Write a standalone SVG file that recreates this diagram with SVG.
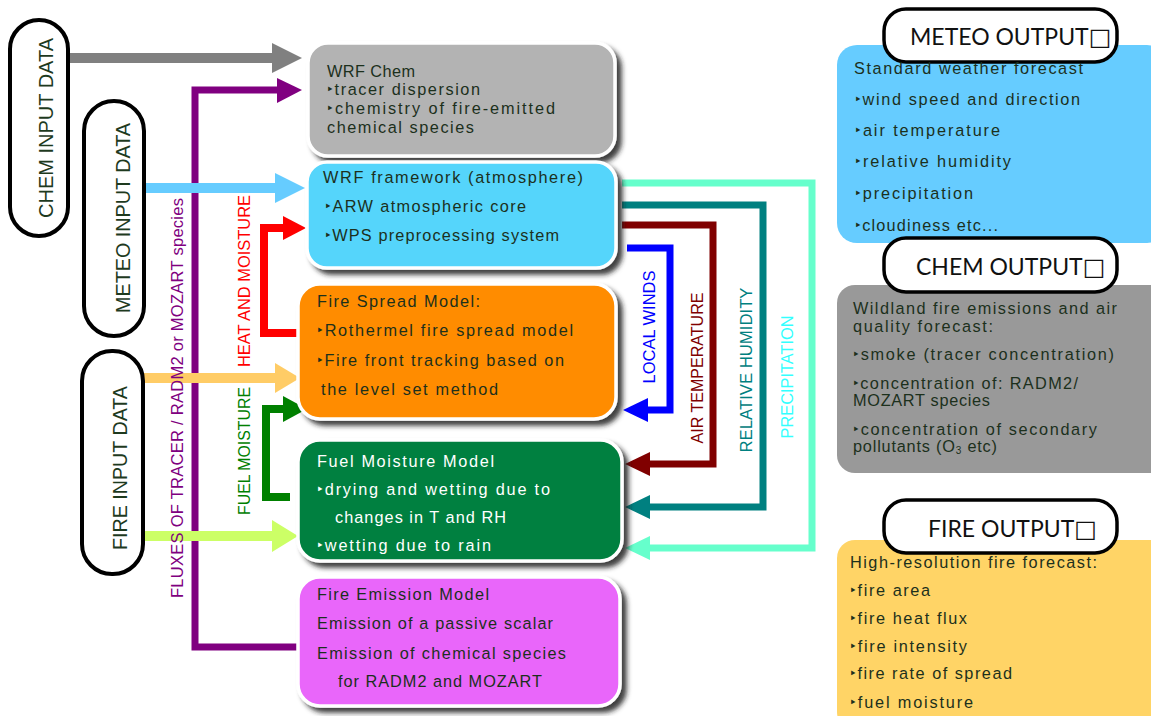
<svg xmlns="http://www.w3.org/2000/svg" width="1151" height="716" viewBox="0 0 1151 716">
<style>
.bt{font-family:"Liberation Sans",Arial,sans-serif;font-size:16.3px;fill:#1c301c}
.wt{font-family:"Liberation Sans",Arial,sans-serif;font-size:16.3px;fill:#ffffff}
.in{font-family:"Liberation Sans",Arial,sans-serif;font-size:20px;fill:#1e3a1e;text-anchor:middle}
.lab{font-family:"Liberation Sans",Arial,sans-serif;font-size:16.5px;text-anchor:middle}
.pill{fill:#ffffff;stroke:#000000;stroke-width:4}
.opill{fill:#ffffff;stroke:#000000;stroke-width:3.5}
.ot{font-family:Lato,"Open Sans","DejaVu Sans",sans-serif;font-size:23px;fill:#111111}
.sq{font-family:"DejaVu Sans",sans-serif;font-size:24px}
.box{stroke:#ffffff;stroke-width:3.5;filter:url(#sh)}
.ln{fill:none;stroke-linejoin:miter}
</style>
<defs>
<filter id="sh" x="-10%" y="-10%" width="130%" height="135%">
<feDropShadow dx="5" dy="5" stdDeviation="2.5" flood-color="#222222" flood-opacity="0.85"/>
</filter>
</defs>
<rect width="1151" height="716" fill="#ffffff"/>

<g id="connectors">
  <line class="ln" x1="68" y1="58" x2="276" y2="58" stroke="#808080" stroke-width="10"/>
  <polygon points="272,43 302,58 272,73" fill="#808080"/>
  <path class="ln" d="M298,647 H195 V90 H280" stroke="#800080" stroke-width="7"/>
  <polygon points="277,78 302,90 277,103" fill="#800080"/>
  <line class="ln" x1="145" y1="188" x2="277" y2="188" stroke="#66CCFF" stroke-width="10"/>
  <polygon points="275,173 305,188 275,203" fill="#66CCFF"/>
  <path class="ln" d="M298,333 H264 V228 H286" stroke="#FF0000" stroke-width="8"/>
  <polygon points="283,216 306,228 283,240" fill="#FF0000"/>
  <line class="ln" x1="143" y1="378" x2="277" y2="378" stroke="#FFCC66" stroke-width="10"/>
  <polygon points="275,363 300,378 275,393" fill="#FFCC66"/>
  <path class="ln" d="M290,497 H266 V409 H286" stroke="#008000" stroke-width="8"/>
  <polygon points="283,396 307,409 283,422" fill="#008000"/>
  <line class="ln" x1="143" y1="536" x2="274" y2="536" stroke="#CCFF66" stroke-width="10"/>
  <polygon points="272,520 298,536 272,552" fill="#CCFF66"/>
  <path class="ln" d="M622,183 H812 V548 H648" stroke="#66FFCC" stroke-width="7"/>
  <polygon points="650,536 625,548 650,560" fill="#66FFCC"/>
  <path class="ln" d="M622,205 H763 V507 H648" stroke="#008080" stroke-width="7"/>
  <polygon points="650,495 625,507 650,519" fill="#008080"/>
  <path class="ln" d="M622,225 H713 V464 H648" stroke="#800000" stroke-width="7"/>
  <polygon points="650,452 625,464 650,476" fill="#800000"/>
  <path class="ln" d="M627,248 H670 V410 H645" stroke="#0000FF" stroke-width="7"/>
  <polygon points="648,398 623,410 648,422" fill="#0000FF"/>
  <text class="lab" transform="translate(183,398) rotate(-90)" fill="#800080" textLength="400" lengthAdjust="spacing">FLUXES OF TRACER  /  RADM2 or MOZART species</text>
  <text class="lab" transform="translate(250,281) rotate(-90)" fill="#FF0000" textLength="172" lengthAdjust="spacingAndGlyphs">HEAT AND MOISTURE</text>
  <text class="lab" transform="translate(250,451) rotate(-90)" fill="#008000" textLength="128" lengthAdjust="spacingAndGlyphs">FUEL MOISTURE</text>
  <text class="lab" transform="translate(655,327) rotate(-90)" fill="#0000FF" textLength="113" lengthAdjust="spacingAndGlyphs">LOCAL WINDS</text>
  <text class="lab" transform="translate(703,368) rotate(-90)" fill="#800000" textLength="151" lengthAdjust="spacingAndGlyphs">AIR TEMPERATURE</text>
  <text class="lab" transform="translate(752,370) rotate(-90)" fill="#008080" textLength="165" lengthAdjust="spacingAndGlyphs">RELATIVE HUMIDITY</text>
  <text class="lab" transform="translate(793,377) rotate(-90)" fill="#33FFFF" textLength="123" lengthAdjust="spacingAndGlyphs">PRECIPITATION</text>
</g>

<g id="chem-input">
  <rect class="pill" x="10" y="20" width="58" height="216" rx="29"/>
  <text class="in" transform="translate(53,128) rotate(-90)" textLength="180" lengthAdjust="spacingAndGlyphs">CHEM INPUT DATA</text>
</g>
<g id="meteo-input">
  <rect class="pill" x="84" y="101" width="60" height="235" rx="30"/>
  <text class="in" transform="translate(130,218) rotate(-90)" textLength="190" lengthAdjust="spacingAndGlyphs">METEO INPUT DATA</text>
</g>
<g id="fire-input">
  <rect class="pill" x="82" y="351" width="61" height="223" rx="30"/>
  <text class="in" transform="translate(127,468) rotate(-90)" textLength="164" lengthAdjust="spacingAndGlyphs">FIRE INPUT DATA</text>
</g>

<g id="wrf-chem">
  <rect class="box" x="308" y="43" width="307" height="113" rx="20" fill="#B3B3B3"/>
  <text class="bt" x="327" y="77" textLength="88" lengthAdjust="spacing">WRF Chem</text>
  <text class="bt" x="327" y="95" textLength="153" lengthAdjust="spacing">‣tracer dispersion</text>
  <text class="bt" x="327" y="114" textLength="228" lengthAdjust="spacing">‣chemistry of  fire-emitted</text>
  <text class="bt" x="327" y="133" textLength="147" lengthAdjust="spacing">chemical species</text>
</g>
<g id="wrf-framework">
  <rect class="box" x="307" y="162" width="309" height="106" rx="20" fill="#55D5FB"/>
  <text class="bt" x="323" y="183" textLength="260" lengthAdjust="spacing">WRF framework (atmosphere)</text>
  <text class="bt" x="325" y="212" textLength="201" lengthAdjust="spacing">‣ARW atmospheric core</text>
  <text class="bt" x="325" y="241" textLength="234" lengthAdjust="spacing">‣WPS preprocessing system</text>
</g>
<g id="fire-spread">
  <rect class="box" x="298" y="284" width="318" height="135" rx="22" fill="#FF8C00"/>
  <text class="bt" x="317" y="307" textLength="163" lengthAdjust="spacing">Fire Spread Model:</text>
  <text class="bt" x="317" y="336" textLength="256" lengthAdjust="spacing">‣Rothermel fire spread model</text>
  <text class="bt" x="317" y="366" textLength="247" lengthAdjust="spacing">‣Fire front tracking based on</text>
  <text class="bt" x="321" y="395" textLength="177" lengthAdjust="spacing">the level set method</text>
</g>
<g id="fuel-moisture">
  <rect class="box" x="298" y="440" width="324" height="121" rx="22" fill="#008040"/>
  <text class="wt" x="317" y="467" textLength="177" lengthAdjust="spacing">Fuel Moisture Model</text>
  <text class="wt" x="317" y="495" textLength="233" lengthAdjust="spacing">‣drying and wetting due to</text>
  <text class="wt" x="335" y="523" textLength="171" lengthAdjust="spacing">changes in T and RH</text>
  <text class="wt" x="317" y="551" textLength="174" lengthAdjust="spacing">‣wetting due to rain</text>
</g>
<g id="fire-emission">
  <rect class="box" x="298" y="577" width="322" height="129" rx="22" fill="#E966FA"/>
  <text class="bt" x="317" y="600" textLength="172" lengthAdjust="spacing">Fire Emission Model</text>
  <text class="bt" x="317" y="629" textLength="236" lengthAdjust="spacing">Emission of a passive scalar</text>
  <text class="bt" x="317" y="659" textLength="249" lengthAdjust="spacing">Emission of chemical species</text>
  <text class="bt" x="338" y="687" textLength="204" lengthAdjust="spacing">for RADM2 and MOZART</text>
</g>

<g id="meteo-output">
  <rect x="837" y="45" width="330" height="198" rx="20" fill="#66CCFF"/>
  <rect class="opill" x="884" y="9" width="233" height="53" rx="22"/>
  <text class="ot" x="910" y="45">METEO OUTPUT<tspan class="sq">□</tspan></text>
  <text class="bt" x="854" y="74" textLength="229" lengthAdjust="spacing">Standard weather forecast</text>
  <text class="bt" x="855" y="105" textLength="225" lengthAdjust="spacing">‣wind speed and direction</text>
  <text class="bt" x="855" y="136" textLength="145" lengthAdjust="spacing">‣air temperature</text>
  <text class="bt" x="855" y="167" textLength="156" lengthAdjust="spacing">‣relative humidity</text>
  <text class="bt" x="855" y="199" textLength="118" lengthAdjust="spacing">‣precipitation</text>
  <text class="bt" x="855" y="231" textLength="143" lengthAdjust="spacing">‣cloudiness etc...</text>
</g>
<g id="chem-output">
  <rect x="837" y="285" width="330" height="188" rx="18" fill="#999999"/>
  <rect class="opill" x="884" y="238" width="233" height="54" rx="22"/>
  <text class="ot" x="916" y="275">CHEM OUTPUT<tspan class="sq">□</tspan></text>
  <text class="bt" x="853" y="314" textLength="264" lengthAdjust="spacing">Wildland fire emissions and air</text>
  <text class="bt" x="853" y="332" textLength="140" lengthAdjust="spacing">quality forecast:</text>
  <text class="bt" x="853" y="360" textLength="261" lengthAdjust="spacing">‣smoke (tracer concentration)</text>
  <text class="bt" x="853" y="389" textLength="225" lengthAdjust="spacing">‣concentration of: RADM2/</text>
  <text class="bt" x="853" y="406" textLength="137" lengthAdjust="spacing">MOZART species</text>
  <text class="bt" x="853" y="435" textLength="244" lengthAdjust="spacing">‣concentration of secondary</text>
  <text class="bt" x="853" y="452" letter-spacing="0.8">pollutants (O<tspan font-size="10" dy="2">3</tspan><tspan dy="-2"> etc)</tspan></text>
</g>
<g id="fire-output">
  <rect x="837" y="540" width="330" height="190" rx="18" fill="#FFD466"/>
  <rect class="opill" x="884" y="500" width="233" height="53" rx="22"/>
  <text class="ot" x="928" y="537">FIRE OUTPUT<tspan class="sq">□</tspan></text>
  <text class="bt" x="850" y="568" textLength="247" lengthAdjust="spacing">High-resolution fire forecast:</text>
  <text class="bt" x="850" y="596" textLength="80" lengthAdjust="spacing">‣fire area</text>
  <text class="bt" x="850" y="624" textLength="117" lengthAdjust="spacing">‣fire heat flux</text>
  <text class="bt" x="850" y="652" textLength="117" lengthAdjust="spacing">‣fire intensity</text>
  <text class="bt" x="850" y="679" textLength="162" lengthAdjust="spacing">‣fire rate of spread</text>
  <text class="bt" x="850" y="708" textLength="123" lengthAdjust="spacing">‣fuel moisture</text>
</g>
</svg>
